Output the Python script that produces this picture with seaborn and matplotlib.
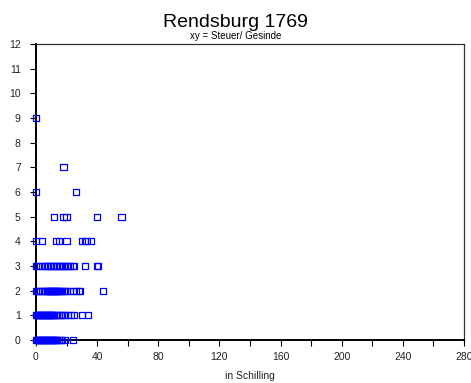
import seaborn as sns
import pandas as pd
import matplotlib.pyplot as plt
from matplotlib.ticker import MultipleLocator

# Steuer (in Schilling) per Gesinde-Anzahl
steuer_g0 = [0, 0.5, 1, 1.5, 2, 2.5, 3, 3.5, 4, 4.5, 5, 5.5, 6, 6.5, 7, 7.5, 8, 8.5, 9, 9.5,
             10, 10.5, 11, 11.5, 12, 12.5, 13, 14, 15, 16, 17, 19, 24]
steuer_g1 = [0, 0.5, 1, 1.5, 2, 2.5, 3, 3.5, 4, 4.5, 5, 5.5, 6, 6.5, 7, 7.5, 8, 8.5, 9, 9.5,
             10, 10.5, 11, 11.5, 12, 13, 14, 15, 16, 17, 18, 19, 21, 23, 25, 30, 34]
steuer_g2 = [0, 1, 2, 3, 4, 5, 6, 7, 7.5, 8, 8.5, 9, 9.5, 10, 10.5, 11, 11.5, 12, 12.5, 13,
             13.5, 14, 14.5, 15, 16, 17, 18, 19, 20, 22, 24, 26, 28, 29, 44]
steuer_g3 = [0, 1, 3, 5, 6, 7, 8, 9, 10, 11, 12, 13, 14, 15, 16, 17, 18, 19, 20, 21, 22, 24,
             25, 32, 40, 40.5]
steuer_g4 = [0, 4, 13, 15, 20, 30, 32, 33, 36]
steuer_g5 = [12, 18, 20, 40, 56]
steuer_g6 = [0, 26]
steuer_g7 = [18]
steuer_g9 = [0]

groups = {0: steuer_g0, 1: steuer_g1, 2: steuer_g2, 3: steuer_g3, 4: steuer_g4,
          5: steuer_g5, 6: steuer_g6, 7: steuer_g7, 9: steuer_g9}
rows = [(s, g) for g, vals in groups.items() for s in vals]
df = pd.DataFrame(rows, columns=['steuer', 'gesinde'])

sns.set_style('white')
plt.rcParams['font.family'] = ['Liberation Sans', 'DejaVu Sans']
plt.rcParams['text.color'] = 'black'

fig = plt.figure(figsize=(4.71, 3.83), dpi=100)
ax = fig.add_axes([0.0764, 0.1123, 0.9086, 0.7727])

sns.scatterplot(data=df, x='steuer', y='gesinde', ax=ax, marker='s', s=20,
                facecolors='none', edgecolor='#0000ff', linewidth=0.9, clip_on=False, zorder=3)

ax.set_xlim(0, 280)
ax.set_ylim(0, 12)
ax.xaxis.set_major_locator(MultipleLocator(40))
ax.xaxis.set_minor_locator(MultipleLocator(20))
ax.yaxis.set_major_locator(MultipleLocator(1))
ax.tick_params(axis='both', which='both', direction='out', labelsize=7.5,
               colors='black', labelcolor='#222222', bottom=True, left=True)
ax.tick_params(axis='x', which='both', length=4, width=0.8, pad=5)
ax.tick_params(axis='y', which='major', length=4, width=0.8, pad=7)

for side in ['left', 'bottom']:
    ax.spines[side].set_linewidth(1.4)
    ax.spines[side].set_color('black')
for side in ['top', 'right']:
    ax.spines[side].set_linewidth(0.9)
    ax.spines[side].set_color('#333333')

ax.set_xlabel('in Schilling', fontsize=7.5, labelpad=6, color='#222222')
ax.set_ylabel('')
fig.text(0.5, 0.93, 'Rendsburg 1769', ha='center', fontsize=14, color='black')
fig.text(0.5, 0.898, 'xy = Steuer/ Gesinde', ha='center', fontsize=7, color='black')

plt.savefig('out.png', dpi=100)
